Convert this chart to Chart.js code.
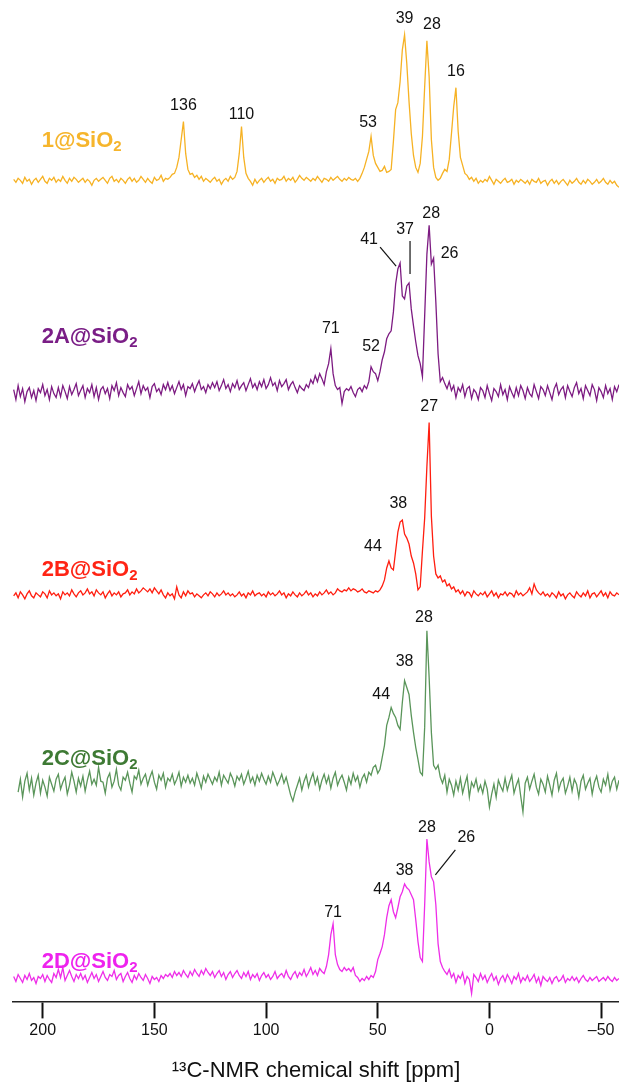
<!DOCTYPE html>
<html>
<head>
<meta charset="utf-8">
<script src="https://cdn.jsdelivr.net/npm/chart.js@4.4.1/dist/chart.umd.min.js"></script>
<style>
  html, body { margin: 0; padding: 0; background: #fff; }
  #wrap { width: 619px; height: 1084px; position: relative; }
</style>
</head>
<body>
<div id="wrap"><canvas id="nmr"></canvas></div>
<script>
// chemical shift grid: first point 213 ppm, 1 ppm per point, down to -58 ppm
const ppmStart = 213
const ppmStep = 1

const names = ['1@SiO2', '2A@SiO2', '2B@SiO2', '2C@SiO2', '2D@SiO2']
const tickValues = [200, 150, 100, 50, 0, -50]

// intensities (a.u.), one row = 10 ppm
const s1 = [
  2, -1, 3, 1, -2, 4, 0, 2, -3, 1,          // 213..204
  3, -1, 2, 5, 0, -2, 3, 1, 4, -1,          // 203..194
  2, 0, 5, 1, -2, 3, 0, 4, 2, -1,           // 193..184
  1, 3, -1, 2, 0, -4, 1, 3, 0, 2,           // 183..174
  4, 1, -2, 3, 5, 0, 2, -1, 3, 1,           // 173..164
  -2, 2, 4, 0, 3, -1, 1, 5, 2, -1,          // 163..154
  3, 0, -2, 4, 1, 2, 6, 0, 3, 2,            // 153..144
  4, 7, 8, 14, 24, 42, 60, 28, 12, 7,       // 143..134
  8, 4, 6, 2, 5, 0, 3, 1, -1, 2,            // 133..124
  4, 0, 2, -3, 1, 3, 0, 5, 2, 4,            // 123..114
  10, 28, 55, 24, 8, 3, 0, -4, 2, -2,       // 113..104
  1, 3, -1, 2, 4, 0, 2, -2, 3, 1,           // 103..94
  2, 5, 0, 3, 1, 4, -1, 2, 6, 3,            // 93..84
  1, 4, 2, 0, 3, 1, 5, 2, -1, 3,            // 83..74
  2, 0, 4, 1, 3, 5, 2, 0, 3, 1,             // 73..64
  4, 2, 1, 3, 0, 3, 8, 14, 22, 30,          // 63..54
  45, 26, 18, 14, 10, 11, 15, 9, 10, 12,    // 53..44
  40, 72, 79, 100, 132, 147, 118, 80, 48, 26, // 43..34
  14, 9, 18, 45, 95, 141, 105, 42, 14, 4,   // 33..24
  1, 3, 8, 12, 10, 22, 48, 75, 94, 50,      // 23..14
  24, 16, 8, 6, 2, 4, 0, 3, -2, 1,          // 13..4
  -1, 2, 0, 5, 1, -3, 2, 0, -2, 1,          // 3..-6
  3, -1, 0, 2, -3, 1, -1, 2, 0, -2,         // -7..-16
  1, -3, 2, 0, -1, 3, -2, 0, 1, -4,         // -17..-26
  0, 2, -2, 1, -3, 0, 2, -1, -4, 1,         // -27..-36
  -2, 0, 3, -1, -3, 1, -2, 2, 0, -3,        // -37..-46
  -1, 2, -2, 0, 3, -1, -3, 1, -2, 0,        // -47..-56
  -4, -6                                    // -57..-58
]

const s2A = [
  4, -6, 8, -3, 5, -8, 2, 6, -4, 3,
  -7, 5, 1, 9, -2, 4, -6, 7, 0, -4,
  6, -3, 8, 2, -5, 7, -1, 4, 10, -2,
  3, 8, -4, 5, 1, 9, -3, 6, -6, 4,
  7, 0, 5, -5, 8, 3, 11, -2, 6, 1,
  -3, 9, 4, 7, -2, 5, 12, 0, 8, 3,
  6, -4, 7, 10, 2, 5, -1, 9, 4, 11,
  3, 8, 0, 6, 12, 4, 9, -2, 7, 5,
  10, 2, 8, 13, 4, 7, 1, 9, 5, 11,
  6, 12, 3, 8, 14, 5, 9, 2, 10, 6,
  13, 4, 8, 11, 3, 9, 15, 6, 10, 4,
  12, 7, 14, 5, 9, 16, 8, 11, 3, 13,
  7, 10, 14, 4, 9, 12, 6, 1, 8, 5,
  3, 9, 6, 14, 10, 18, 12, 20, 15, 9,
  22, 30, 45, 20, 8, 4, 6, -10, 2, 5,
  3, 7, 1, -3, 4, 6, 2, 8, 5, 12,
  27, 22, 20, 13, 22, 34, 42, 55, 60, 63,
  82, 110, 125, 131, 98, 95, 108, 111, 85, 68,
  52, 38, 30, 17, 78, 140, 169, 130, 136, 92,
  40, 12, 16, 10, 5, 12, 3, 8, -4, 6,
  2, 9, -3, 5, 7, -5, 4, 1, -6, 6,
  3, -4, 8, 0, -7, 5, 2, -3, 9, -1,
  4, -6, 7, 1, -4, 6, -2, 8, 3, -5,
  6, 0, -3, 9, 2, -5, 7, 4, -2, 8,
  1, -6, 5, 10, -1, 4, 7, -4, 8, 2,
  -3, 6, 11, 0, 5, -5, 8, 3, -2, 9,
  4, -7, 6, 2, -4, 8, 0, 5, -6, 7,
  2, 9
]

const s2B = [
  0, 3, -2, 4, 1, -3, 2, 5, 0, -2,
  3, 1, -1, 4, 2, -2, 5, 1, 3, 0,
  2, -3, 4, 1, 3, 0, 6, 2, -1, 3,
  5, 1, 3, 7, 2, 4, 0, 6, 3, 1,
  4, -2, 2, 5, 0, 3, 1, 4, -1, 2,
  3, 6, 1, 4, 2, 7, 3, 5, 8, 6,
  4, 7, 3, 8, 5, 2, 6, 1, -2, 3,
  0, 2, -3, 9, 1, -2, 4, 0, 5, 2,
  3, -1, 2, 0, -2, 1, 3, 0, 4, 2,
  -1, 3, 0, 2, 5, 1, 3, 0, 2, -1,
  1, 4, 0, 2, -2, 3, 1, 5, 0, 2,
  3, 0, 2, -1, 4, 1, 3, 0, 2, 5,
  1, 3, -2, 2, 0, 4, 1, -1, 3, 0,
  2, 5, 1, 3, -1, 2, 0, 4, 1, 3,
  6, 2, 4, 1, 3, 7, 5, 4, 6, 5,
  8, 5, 7, 6, 4, 5, 7, 4, 3, 5,
  4, 3, 5, 4, 6, 10, 16, 28, 35, 28,
  26, 45, 64, 74, 76, 62, 58, 52, 40, 33,
  22, 6, 9, 45, 78, 130, 174, 80, 40, 22,
  18, 20, 14, 16, 10, 12, 7, 9, 4, 6,
  2, 5, 0, 4, 3, -1, 5, 2, 0, 3,
  1, 4, -1, 2, 5, 0, 3, -2, 2, 1,
  4, 0, 3, 2, -1, 5, 1, 3, 0, 2,
  4, 8, 2, 12, 6, 3, 1, 4, 0, 2,
  -1, 3, 1, -2, 4, 0, 2, -3, 1, 3,
  0, -2, 4, 1, -1, 3, 0, 5, -2, 2,
  3, -1, 2, 5, 0, 3, -2, 4, 1, 0,
  3, 1
]

const s2C = [
  null, null, -5, 8, -10, 6, 14, -3, 9, -8,
  4, 12, -6, 7, 0, -9, 10, 3, -4, 8,
  13, -2, 5, 10, -7, 2, 15, 6, -5, 9,
  1, 11, -4, 7, 16, 3, 8, 2, 20, 6,
  5, -6, 9, 14, 0, 6, 18, 2, -3, 10,
  7, 15, 4, -5, 11, 8, 17, 3, 9, 13,
  2, 10, 16, 5, -2, 12, 7, 14, 0, 9,
  6, 13, 3, 8, 15, 1, 10, 5, 12, 4,
  9, 2, 14, 7, -1, 11, 5, 13, 8, 3,
  10, 6, 15, 2, 12, 8, 4, 14, 9, 1,
  11, 7, 13, 3, 9, 16, 5, 10, 2, 12,
  6, 14, 8, 3, 11, 5, 15, 9, 2, 7,
  13, 4, 10, 1, -8, -14, -5, 2, 9, -3,
  6, 12, 0, 8, 14, 3, 10, -2, 7, 13,
  4, 11, -1, 9, 15, 2, 8, 12, 5, -3,
  10, 3, 14, 6, 11, 0, 9, 13, 5, 15,
  12, 20, 22, 14, 18, 30, 42, 62, 70, 80,
  74, 70, 62, 58, 85, 107, 100, 93, 72, 55,
  40, 28, 15, 12, 60, 157, 110, 55, 22, 18,
  22, 10, 4, 12, -5, 8, 2, -8, 6, -3,
  9, -6, 3, 11, -10, 5, 0, 8, -4, 2,
  -6, 6, -2, -20, -7, 3, -10, 7, 1, -4,
  9, -3, 5, 12, -6, 2, 8, -9, -25, 4,
  10, -2, 6, 13, 0, -7, 8, 3, -5, 11,
  2, -8, 7, 14, -3, 5, 9, -6, 1, 10,
  -4, 8, 3, -10, 6, 12, -2, 4, 9, -7,
  5, 11, 0, -5, 8, 2, 13, -3, 6, 10,
  -2, 7
]

const s2D = [
  3, -2, 5, 1, -3, 4, 0, 6, -1, 2,
  -4, 3, 1, 5, -2, 4, 0, -3, 6, 2,
  10, 2, 12, -1, 4, 9, 3, -2, 5, 1,
  6, 0, 4, -3, 2, 7, 1, 5, -2, 3,
  8, 2, -1, 5, 3, 9, 0, 4, 6, -2,
  3, 7, 1, -3, 4, 0, 6, 2, -1, 5,
  1, -4, 3, 0, 2, -2, 4, 1, 5, 3,
  6, 2, 8, 4, 7, 3, 9, 5, 2, 8,
  4, 10, 6, 3, 9, 5, 11, 7, 4, 8,
  2, 6, 9, 3, 7, 0, 5, 8, 2, 6,
  9, 4, 1, 7, 3, 8, 0, 5, 2, 6,
  -1, 4, 7, 2, 5, 0, 3, 8, 1, 4,
  6, 2, 9, 3, 0, 5, 8, 2, 7, 4,
  10, 3, 7, 12, 5, 9, 4, 11, 8, 6,
  13, 25, 45, 56, 25, 15, 10, 8, 12, 9,
  11, 8, 12, 4, 2, -2, 1, -1, 3, 0,
  4, 2, 8, 20, 26, 33, 45, 62, 74, 80,
  68, 62, 72, 83, 88, 96, 92, 90, 85, 80,
  60, 38, 22, 18, 75, 141, 118, 103, 98, 75,
  36, 18, 12, 8, 5, 10, 2, 6, -3, 4,
  1, 7, -4, 3, 0, -14, 5, 2, -2, 6,
  0, 4, -3, 2, 6, -1, 3, -5, 1, 4,
  -2, 5, 1, -4, 3, 0, 6, -3, 2, -1,
  4, -2, 1, 5, -3, 2, -6, 3, 0, -2,
  2, -4, 1, 3, -2, 0, 4, -3, 1, -1,
  3, -1, 2, -3, 1, 4, 0, -2, 2, -1,
  1, 3, -2, 0, 2, -1, 3, 0, -2, 2,
  -1, 1
]

// peak labels: [text, ppm of the grid point it marks]
const peaks1 = [['136', 137], ['110', 111], ['53', 53], ['39', 38], ['28', 28], ['16', 15]]
const peaks2A = [['71', 71], ['52', 53], ['41', 40], ['37', 36], ['28', 27], ['26', 25]]
const peaks2B = [['44', 45], ['38', 39], ['27', 27]]
const peaks2C = [['44', 44], ['38', 38], ['28', 28]]
const peaks2D = [['71', 70], ['44', 44], ['38', 38], ['28', 28], ['26', 26]]

const spectra = [s1, s2A, s2B, s2C, s2D]
const peakLists = [peaks1, peaks2A, peaks2B, peaks2C, peaks2D]

// look
const lineColors = ['#f6b224', '#7d1b82', '#ff1e10', '#5a955a', '#ee2ee8']
const nameColors = ['#f6b52c', '#7a1e86', '#ff2414', '#3e7a34', '#ee22ee']
const stackOffset = [823, 610, 407, 215, 22]
const nameRise = [40, 57, 26, 28, 18]
const FONT = '"Liberation Sans", Arial, Helvetica, sans-serif'

// label placement tweaks: dx, rise (px above the peak), optional leader line
const nudge = {
  '0:28': { dx: 5 }, '0:53': { dx: -3, rise: 14 }, '0:110': { rise: 12 },
  '1:71': { rise: 20 }, '1:52': { rise: 20 },
  '1:41': { dx: -31, rise: 23, lead: [-20, -16, -4, 3] },
  '1:37': { dx: -4, rise: 53, lead: [1, -42, 1, -9] },
  '1:28': { dx: 2, rise: 12 }, '1:26': { dx: 16, rise: 4 },
  '2:38': { dx: -4, rise: 17 }, '2:44': { dx: -16, rise: 14 },
  '3:28': { dx: -3, rise: 13 }, '3:38': { rise: 19 }, '3:44': { dx: -10, rise: 13 },
  '4:28': { rise: 11 }, '4:26': { dx: 35, rise: 39, lead: [24, -27, 4, -2] },
  '4:38': { rise: 13 }, '4:44': { dx: -9, rise: 10 }, '4:71': { rise: 11 }
}

const ppmOf = i => ppmStart - i * ppmStep

const datasets = spectra.map((vals, k) => ({
  label: names[k],
  data: vals.map((v, i) => ({ x: ppmOf(i), y: v === null ? null : v + stackOffset[k] })),
  borderColor: lineColors[k],
  borderWidth: 1.3,
  pointRadius: 0,
  tension: 0,
  clip: false
}))

const annotations = {
  id: 'annotations',
  afterDatasetsDraw (chart) {
    const { ctx, scales: { x, y } } = chart
    ctx.save()
    spectra.forEach((vals, k) => {
      ctx.font = '16px ' + FONT
      ctx.fillStyle = '#111'
      ctx.strokeStyle = '#111'
      ctx.lineWidth = 1.2
      ctx.textAlign = 'center'
      ctx.textBaseline = 'middle'
      peakLists[k].forEach(([txt, ppm]) => {
        const i = Math.round((ppmStart - ppm) / ppmStep)
        const px = x.getPixelForValue(ppm)
        const py = y.getPixelForValue(vals[i] + stackOffset[k])
        const n = nudge[k + ':' + txt] || {}
        const rise = n.rise === undefined ? 16 : n.rise
        ctx.fillText(txt, px + (n.dx || 0), py - rise)
        if (n.lead) {
          ctx.beginPath()
          ctx.moveTo(px + n.lead[0], py + n.lead[1])
          ctx.lineTo(px + n.lead[2], py + n.lead[3])
          ctx.stroke()
        }
      })

      // sample name, trailing 2 as subscript
      const main = names[k].slice(0, -1)
      const sub = names[k].slice(-1)
      const nx = x.getPixelForValue(200) - 1
      const ny = y.getPixelForValue(stackOffset[k]) - nameRise[k]
      ctx.fillStyle = nameColors[k]
      ctx.textAlign = 'left'
      ctx.font = 'bold 22px ' + FONT
      ctx.fillText(main, nx, ny)
      const w = ctx.measureText(main).width
      ctx.font = 'bold 15px ' + FONT
      ctx.fillText(sub, nx + w, ny + 6)
    })
    ctx.restore()
  }
}

new Chart(document.getElementById('nmr'), {
  type: 'line',
  data: { datasets },
  options: {
    responsive: true,
    maintainAspectRatio: false,
    animation: false,
    layout: { padding: { left: 13, right: 0, top: 0, bottom: 0 } },
    plugins: { legend: { display: false }, tooltip: { enabled: false } },
    scales: {
      x: {
        type: 'linear',
        reverse: true,
        min: -58,
        max: 213.3,
        afterBuildTicks: scale => {
          scale.ticks = tickValues.slice().sort((a, b) => a - b).map(v => ({ value: v }))
        },
        grid: { drawOnChartArea: false, drawTicks: true, tickLength: 17, tickWidth: 2, tickColor: '#111' },
        border: { display: true, color: '#222', width: 1.5 },
        ticks: {
          color: '#111',
          padding: 3,
          maxRotation: 0,
          autoSkip: false,
          font: { size: 16, family: FONT },
          callback: v => String(v).replace('-', '\u2013')
        },
        title: {
          display: true,
          text: '\u00b9\u00b3C-NMR chemical shift [ppm]',
          color: '#111',
          font: { size: 22, family: FONT },
          padding: { top: 14, bottom: 0 }
        }
      },
      y: { display: false, min: 0, max: 1005 }
    }
  },
  plugins: [annotations]
})
</script>
</body>
</html>
